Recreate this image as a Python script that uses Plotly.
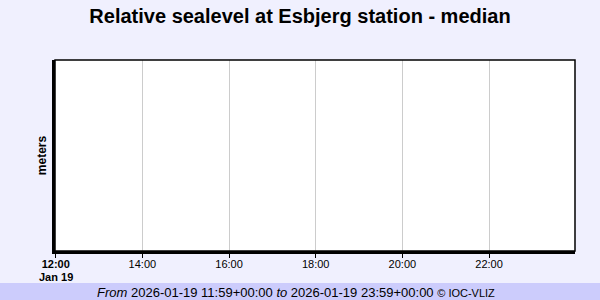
import plotly.graph_objects as go

title_text = "Relative sealevel at Esbjerg station - median"
y_title = "meters"
x_start = "2026-01-19 11:59:00"
x_end = "2026-01-19 23:59:00"
tick_vals = ["2026-01-19 12:00", "2026-01-19 14:00", "2026-01-19 16:00",
             "2026-01-19 18:00", "2026-01-19 20:00", "2026-01-19 22:00"]
tick_text = ["<b>12:00</b>", "14:00", "16:00", "18:00", "20:00", "22:00"]
date_label = "Jan 19"
times = []
values = []
footer = ("<i>From</i> 2026-01-19 11:59+00:00 <i>to</i> 2026-01-19 23:59+00:00 "
          "<span style='font-size:11px'>© IOC-VLIZ</span>")

L, R, T, B = 55, 25, 60, 49
W, H = 600, 300
pw, ph = W - L - R, H - T - B

fig = go.Figure(go.Scatter(x=times, y=values, mode="lines", line=dict(color="#1f77b4")))

fig.update_layout(
    width=W, height=H,
    margin=dict(l=L, r=R, t=T, b=B, pad=0),
    paper_bgcolor="#f0f0fe",
    plot_bgcolor="#ffffff",
    font=dict(family="Arial, Liberation Sans, sans-serif", color="#000000", size=11),
    title=dict(text="<b>" + title_text + "</b>", x=0.5, xanchor="center",
               y=1 - 16 / H, yanchor="middle",
               font=dict(size=20, color="#000000")),
    showlegend=False,
    xaxis=dict(type="date", range=[x_start, x_end],
               tickvals=tick_vals, ticktext=tick_text,
               showgrid=True, gridcolor="#cccccc", gridwidth=1,
               ticks="outside", ticklen=4, tickcolor="#000000",
               showline=True, linecolor="#000000", linewidth=2.5,
               zeroline=False, tickfont=dict(size=11), ticklabelstandoff=-3),
    yaxis=dict(range=[0, 1], showticklabels=False, showgrid=False, zeroline=False,
               ticks="", showline=True, linecolor="#000000", linewidth=2.5,
               title=dict(text="<b>" + y_title + "</b>", font=dict(size=12), standoff=4)),
    shapes=[
        dict(type="rect", xref="paper", yref="paper", x0=0, x1=1, y0=0, y1=1,
             line=dict(color="#000000", width=1.5), fillcolor="rgba(0,0,0,0)", layer="above"),
        dict(type="rect", xref="paper", yref="paper",
             x0=-L / pw, x1=1 + R / pw, y0=-(B) / ph, y1=-(B - 17) / ph,
             line=dict(width=0), fillcolor="#ccccfc", layer="below"),
    ],
    annotations=[
        dict(text="<b>" + date_label + "</b>", xref="x", yref="paper", x=tick_vals[0],
             y=-(276.5 - (T + ph)) / ph, xanchor="center", yanchor="middle",
             showarrow=False, font=dict(size=11, color="#000000")),
        dict(text=footer, xref="paper", yref="paper", x=(296 - L) / pw,
             y=-(B - 8) / ph, xanchor="center", yanchor="middle",
             showarrow=False, font=dict(size=13, color="#000000")),
    ],
)

fig.write_html("out.html")
